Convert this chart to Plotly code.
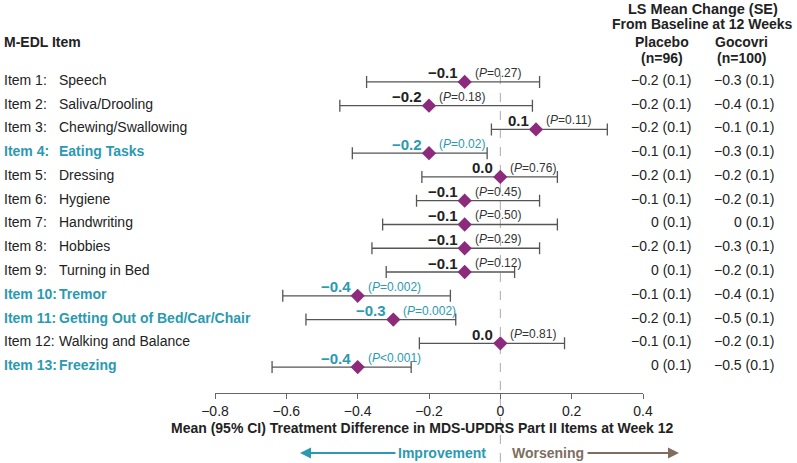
import plotly.graph_objects as go

# ITEM DATA (ROW ORDER TOP TO BOTTOM)
item_no = ["Item 1:", "Item 2:", "Item 3:", "Item 4:", "Item 5:", "Item 6:", "Item 7:",
           "Item 8:", "Item 9:", "Item 10:", "Item 11:", "Item 12:", "Item 13:"]
items = ["Speech", "Saliva/Drooling", "Chewing/Swallowing", "Eating Tasks", "Dressing",
         "Hygiene", "Handwriting", "Hobbies", "Turning in Bed", "Tremor",
         "Getting Out of Bed/Car/Chair", "Walking and Balance", "Freezing"]
diff = [-0.1, -0.2, 0.1, -0.2, 0.0, -0.1, -0.1, -0.1, -0.1, -0.4, -0.3, 0.0, -0.4]
ci_lo = [-0.375, -0.45, -0.025, -0.415, -0.22, -0.235, -0.33, -0.36, -0.32, -0.61, -0.545, -0.227, -0.64]
ci_hi = [0.11, 0.09, 0.30, -0.037, 0.16, 0.11, 0.16, 0.11, 0.04, -0.14, -0.125, 0.18, -0.25]
p_vals = ["=0.27", "=0.18", "=0.11", "=0.02", "=0.76", "=0.45", "=0.50", "=0.29", "=0.12",
          "=0.002", "=0.002", "=0.81", "<0.001"]
significant = [False, False, False, True, False, False, False, False, False, True, True, False, True]
placebo = [-0.2, -0.2, -0.2, -0.1, -0.2, -0.1, 0, -0.2, 0, -0.1, -0.2, -0.1, 0]
gocovri = [-0.3, -0.4, -0.1, -0.3, -0.2, -0.2, 0, -0.3, -0.2, -0.4, -0.5, -0.2, -0.5]
se = [0.1] * 13
tick_vals = [-0.8, -0.6, -0.4, -0.2, 0, 0.2, 0.4]
tick_text = ["\u22120.8", "\u22120.6", "\u22120.4", "\u22120.2", "0", "0.2", "0.4"]

rows = list(range(1, len(items) + 1))

TEAL = "#2b9ab0"
PURPLE = "#8c2a7c"
BROWN = "#7d6e60"
DARK = "#222222"
FONT = "Liberation Sans, Arial, sans-serif"

W, H = 797, 463
ML, MR, MT, MB = 215, 154, 70, 70
PW, PH = W - ML - MR, H - MT - MB


def px(x):
    return (x - ML) / PW


def py(y):
    return (H - MB - y) / PH


def lbl(v):
    # treatment difference label, always one decimal
    return ("%.1f" % v).replace("-", "\u2212")


def cell(v):
    # LS mean cell, plain 0 for zero
    s = "0" if v == 0 else "%.1f" % v
    return s.replace("-", "\u2212")


fig = go.Figure()

# CI BARS + DIAMONDS
fig.add_trace(go.Scatter(
    x=diff, y=rows, mode="markers",
    marker=dict(symbol="diamond", size=11, color=PURPLE),
    error_x=dict(type="data", symmetric=False,
                 array=[h - d for h, d in zip(ci_hi, diff)],
                 arrayminus=[d - l for d, l in zip(diff, ci_lo)],
                 color="#555555", thickness=1.3, width=6),
    showlegend=False, hoverinfo="skip"))

ann = []

# VALUE AND P LABELS
for r, d, p, sig in zip(rows, diff, p_vals, significant):
    col = TEAL if sig else DARK
    ann.append(dict(x=d, y=r, xref="x", yref="y", text="<b>%s</b>" % lbl(d),
                    xanchor="right", yanchor="middle", xshift=-5, yshift=9,
                    showarrow=False, font=dict(size=15, color=col)))
    ann.append(dict(x=d, y=r, xref="x", yref="y", text="(<i>P</i>%s)" % p,
                    xanchor="left", yanchor="middle", xshift=8, yshift=9,
                    showarrow=False, font=dict(size=12, color=TEAL if sig else "#333333")))

# LEFT LABELS
for r, n, it, sig in zip(rows, item_no, items, significant):
    col = TEAL if sig else DARK
    fmt = "<b>%s</b>" if sig else "%s"
    ann.append(dict(x=px(2), y=r, xref="paper", yref="y", text=fmt % n,
                    xanchor="left", yanchor="middle", yshift=2, showarrow=False,
                    font=dict(size=14, color=col)))
    ann.append(dict(x=px(57), y=r, xref="paper", yref="y", text=fmt % it,
                    xanchor="left", yanchor="middle", yshift=2, showarrow=False,
                    font=dict(size=14, color=col)))

# RIGHT COLUMNS
for r, a, b, s in zip(rows, placebo, gocovri, se):
    ann.append(dict(x=px(693), y=r, xref="paper", yref="y", text="%s (%.1f)" % (cell(a), s),
                    xanchor="right", yanchor="middle", yshift=2, showarrow=False,
                    font=dict(size=14, color=DARK)))
    ann.append(dict(x=px(776), y=r, xref="paper", yref="y", text="%s (%.1f)" % (cell(b), s),
                    xanchor="right", yanchor="middle", yshift=2, showarrow=False,
                    font=dict(size=14, color=DARK)))

# HEADERS
headers = [("<b>M-EDL Item</b>", 2, 42, "left", 14),
           ("<b>LS Mean Change (SE)</b>", 703, 9, "center", 14.5),
           ("<b>From Baseline at 12 Weeks</b>", 702, 24, "center", 14),
           ("<b>Placebo</b>", 662, 42, "center", 14),
           ("<b>Gocovri</b>", 741, 42, "center", 14),
           ("<b>(n=96)</b>", 662, 58, "center", 14),
           ("<b>(n=100)</b>", 741, 58, "center", 14)]
for t, x, y, a, s in headers:
    ann.append(dict(x=px(x), y=py(y), xref="paper", yref="paper", text=t,
                    xanchor=a, yanchor="middle", showarrow=False,
                    font=dict(size=s, color=DARK)))

# AXIS TITLE
ann.append(dict(x=px(422), y=py(428), xref="paper", yref="paper",
                text="<b>Mean (95% CI) Treatment Difference in MDS-UPDRS Part II Items at Week 12</b>",
                xanchor="center", yanchor="middle", showarrow=False,
                font=dict(size=14, color=DARK)))

# IMPROVEMENT / WORSENING ARROWS
ann.append(dict(x=px(488), y=py(453), xref="paper", yref="paper", text="<b>Improvement</b>",
                xanchor="right", yanchor="middle", showarrow=False,
                font=dict(size=14, color=TEAL)))
ann.append(dict(x=px(510), y=py(453), xref="paper", yref="paper", text="<b>Worsening</b>",
                xanchor="left", yanchor="middle", showarrow=False,
                font=dict(size=14, color=BROWN)))
ann.append(dict(x=px(300), y=py(453), xref="paper", yref="paper", text="",
                showarrow=True, ax=97, ay=0, axref="pixel", ayref="pixel",
                arrowhead=2, arrowsize=1.1, arrowwidth=2, arrowcolor=TEAL))
ann.append(dict(x=px(679), y=py(453), xref="paper", yref="paper", text="",
                showarrow=True, ax=-93, ay=0, axref="pixel", ayref="pixel",
                arrowhead=2, arrowsize=1.1, arrowwidth=2, arrowcolor=BROWN))

# DASHED ZERO LINE
fig.add_shape(type="line", xref="x", yref="paper", x0=0, x1=0, y0=py(462), y1=py(72),
              line=dict(color="#aaaaaa", width=1, dash="dash"), layer="below")

fig.update_layout(
    width=W, height=H,
    margin=dict(l=ML, r=MR, t=MT, b=MB),
    plot_bgcolor="white", paper_bgcolor="white",
    font=dict(family=FONT, color=DARK),
    annotations=ann,
    xaxis=dict(range=[-0.8, 0.4], tickvals=tick_vals, ticktext=tick_text,
               showgrid=False, zeroline=False, showline=True, linecolor="#666666",
               linewidth=1, ticks="outside", ticklen=5, tickcolor="#666666",
               tickfont=dict(size=14, color=DARK)),
    yaxis=dict(range=[14.09, 0.5], visible=False),
)

# PAGE HAS DEFAULT BODY MARGIN, REMOVE IT SO THE FIGURE SITS AT 0,0
fig.write_html("out.html", config={"displayModeBar": False},
               post_script="document.body.style.margin='0';document.body.style.padding='0';")
